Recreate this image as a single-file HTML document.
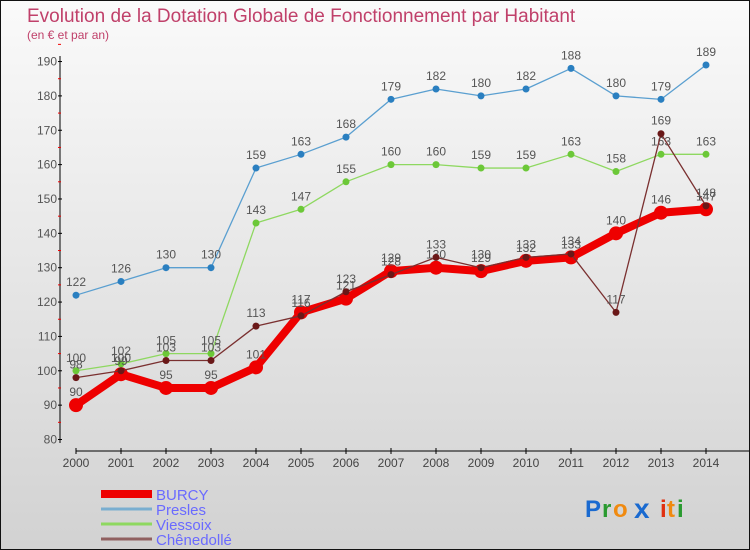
<!DOCTYPE html>
<html><head><meta charset="utf-8"><style>
body{margin:0;}
#wrap{position:relative;width:748px;height:548px;border:1px solid #111;background:linear-gradient(#fafafa,#d2d2d2);overflow:hidden;font-family:"Liberation Sans",sans-serif;}
</style></head><body>
<div id="wrap">
<svg id="svg" width="748" height="548" xmlns="http://www.w3.org/2000/svg">
<text x="26" y="21" font-size="19" fill="#c0406a">Evolution de la Dotation Globale de Fonctionnement par Habitant</text>
<text x="26" y="38" font-size="12" fill="#c0406a">(en € et par an)</text>
<g id="axes"></g><g id="series"></g><g id="legend"></g>
<g font-size="24" font-weight="bold" font-family="Liberation Sans,sans-serif">
<text x="584" y="516" fill="#1a6ad0">P</text><text x="601" y="516" fill="#2a9a30">r</text><text x="612" y="516" fill="#f08a10">o</text><text x="633" y="517" fill="#1a6ad0" font-size="28">x</text><text x="659" y="516" fill="#e03010">i</text><text x="666" y="516" fill="#f08a10">t</text><text x="676" y="516" fill="#2a9a30">i</text>
</g>
</svg>
</div>
<script>
const years=[2000,2001,2002,2003,2004,2005,2006,2007,2008,2009,2010,2011,2012,2013,2014];
const yTicks=[80,90,100,110,120,130,140,150,160,170,180,190];
const burcy=[90,99,95,95,101,117,121,129,130,129,132,133,140,146,147];
const presles=[122,126,130,130,159,163,168,179,182,180,182,188,180,179,189];
const viessoix=[100,102,105,105,143,147,155,160,160,159,159,163,158,163,163];
const chenedolle=[98,100,103,103,113,116,123,128,133,130,133,134,117,169,148];
const NS="http://www.w3.org/2000/svg";
function X(i){return 75+i*45;}
function Y(v){return 438.5-(v-80)*3.436;}
function mk(t,a,p){const e=document.createElementNS(NS,t);for(const k in a)e.setAttribute(k,a[k]);if(p)p.appendChild(e);return e;}
const ax=document.getElementById('axes');
let e=mk('line',{x1:59,y1:55,x2:59,y2:442,stroke:'#000','stroke-width':1},ax);

yTicks.forEach(v=>{
  mk('line',{x1:57,x2:61,y1:Y(v),y2:Y(v),stroke:'#000'},ax);
  mk('line',{x1:57,x2:60,y1:Y(v+5),y2:Y(v+5),stroke:'#e00'},ax);
  const t=mk('text',{x:56,y:Y(v)+4,'font-size':12,fill:'#555','text-anchor':'end'},ax);t.textContent=v;
  
});
e=mk('line',{x1:75,y1:450,x2:750,y2:450,stroke:'#000'},ax);

years.forEach((y,i)=>{
  mk('line',{x1:X(i),x2:X(i),y1:447,y2:453,stroke:'#000'},ax);
  const t=mk('text',{x:X(i),y:466,'font-size':12,fill:'#444','text-anchor':'middle'},ax);t.textContent=y;
  
});
const sg=document.getElementById('series');
const defs=[
 {name:'presles',d:presles,c:'#5a9fd0',dot:'#2a7fc0',w:1.3,r:3.5},
 {name:'viessoix',d:viessoix,c:'#8ed860',dot:'#6cc838',w:1.3,r:3.5},
 {name:'burcy',d:burcy,c:'#ee0000',dot:'#ee0000',w:8,r:7},
 {name:'chenedolle',d:chenedolle,c:'#7a3030',dot:'#6a1818',w:1.3,r:3.5}];
defs.forEach(s=>{
  const g=mk('g',{},sg);
  
  const pts=s.d.map((v,i)=>X(i)+','+Y(v)).join(' ');
  mk('polyline',{points:pts,fill:'none',stroke:s.c,'stroke-width':s.w,'stroke-linejoin':'round'},g);
  s.d.forEach((v,i)=>{
    const c=mk('circle',{cx:X(i),cy:Y(v),r:s.r,fill:s.dot},g);
    
    const t=mk('text',{x:X(i),y:Y(v)-9,'font-size':12,fill:'#555','text-anchor':'middle'},g);t.textContent=v;
    
  });
});
const lg=document.getElementById('legend');
const leg=[['BURCY','#ee0000',8],['Presles','#7aaed0',3],['Viessoix','#8ed860',3],['Chênedollé','#906060',3]];
leg.forEach((l,i)=>{
  const y=493+i*15;
  const g=mk('g',{},lg);
  
  mk('line',{x1:100,x2:151,y1:y,y2:y,stroke:l[1],'stroke-width':l[2]},g);
  const t=mk('text',{x:155,y:y+6,'font-size':15,fill:'#6a6aff'},g);t.textContent=l[0];
});
</script>
</body></html>
